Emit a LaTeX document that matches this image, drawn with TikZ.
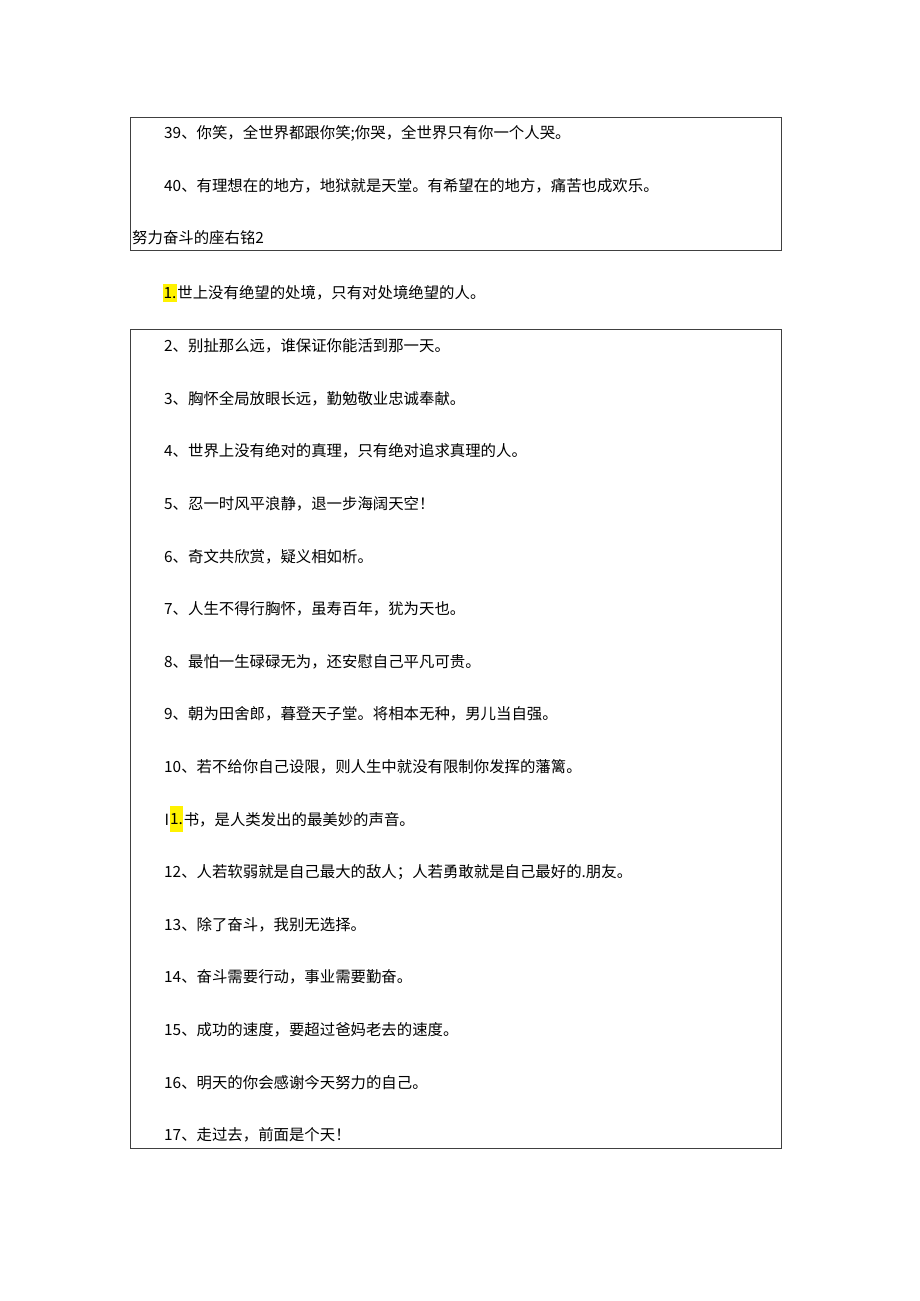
\documentclass[tikz,border=0pt]{standalone}
\usepackage{fontspec}
\newfontfamily\cjk{Noto Sans CJK SC}
\begin{document}
\begin{tikzpicture}[x=1pt,y=-1pt,
  txt/.style={anchor=west,inner sep=0pt,font=\cjk\fontsize{15.4}{18}\selectfont,text=black},
  frame/.style={draw=black!75,line width=1pt},
  hl/.style={fill=yellow,inner xsep=0.5pt,inner ysep=0pt}]
\useasboundingbox (0,0) rectangle (920,1301);
\fill[white] (0,0) rectangle (920,1301);
% top box
\draw[frame] (130,117.5) rectangle (781.5,250);
\node[txt] (l39) at (164,133) {39、你笑，全世界都跟你笑;你哭，全世界只有你一个人哭。};
\node[txt] (l40) at (164,186) {40、有理想在的地方，地狱就是天堂。有希望在的地方，痛苦也成欢乐。};
\node[txt] (title) at (132,237.5) {努力奋斗的座右铭2};
% line 1
\node[txt,hl,minimum height=18pt] (h1) at (163,293) {1.};
\node[txt] (l1) at (h1.east) {世上没有绝望的处境，只有对处境绝望的人。};
% bottom box
\draw[frame] (130,329.5) rectangle (781.5,1148);
\node[txt] (l2) at (164,346) {2、别扯那么远，谁保证你能活到那一天。};
\node[txt] (l3) at (164,398.6) {3、胸怀全局放眼长远，勤勉敬业忠诚奉献。};
\node[txt] (l4) at (164,451.2) {4、世界上没有绝对的真理，只有绝对追求真理的人。};
\node[txt] (l5) at (164,503.8) {5、忍一时风平浪静，退一步海阔天空！};
\node[txt] (l6) at (164,556.4) {6、奇文共欣赏，疑义相如析。};
\node[txt] (l7) at (164,609) {7、人生不得行胸怀，虽寿百年，犹为天也。};
\node[txt] (l8) at (164,661.6) {8、最怕一生碌碌无为，还安慰自己平凡可贵。};
\node[txt] (l9) at (164,714.2) {9、朝为田舍郎，暮登天子堂。将相本无种，男儿当自强。};
\node[txt] (l10) at (164,766.8) {10、若不给你自己设限，则人生中就没有限制你发挥的藩篱。};
\node[txt] (l11a) at (164.5,819.4) {I};
\node[txt,hl,minimum height=26pt] (h11) at (l11a.east) {1.};
\node[txt] (l11) at (h11.east) {书，是人类发出的最美妙的声音。};
\node[txt] (l12) at (164,872) {12、人若软弱就是自己最大的敌人；人若勇敢就是自己最好的.朋友。};
\node[txt] (l13) at (164,924.6) {13、除了奋斗，我别无选择。};
\node[txt] (l14) at (164,977.2) {14、奋斗需要行动，事业需要勤奋。};
\node[txt] (l15) at (164,1029.8) {15、成功的速度，要超过爸妈老去的速度。};
\node[txt] (l16) at (164,1082.4) {16、明天的你会感谢今天努力的自己。};
\node[txt] (l17) at (164,1135) {17、走过去，前面是个天！};
\end{tikzpicture}
\end{document}
